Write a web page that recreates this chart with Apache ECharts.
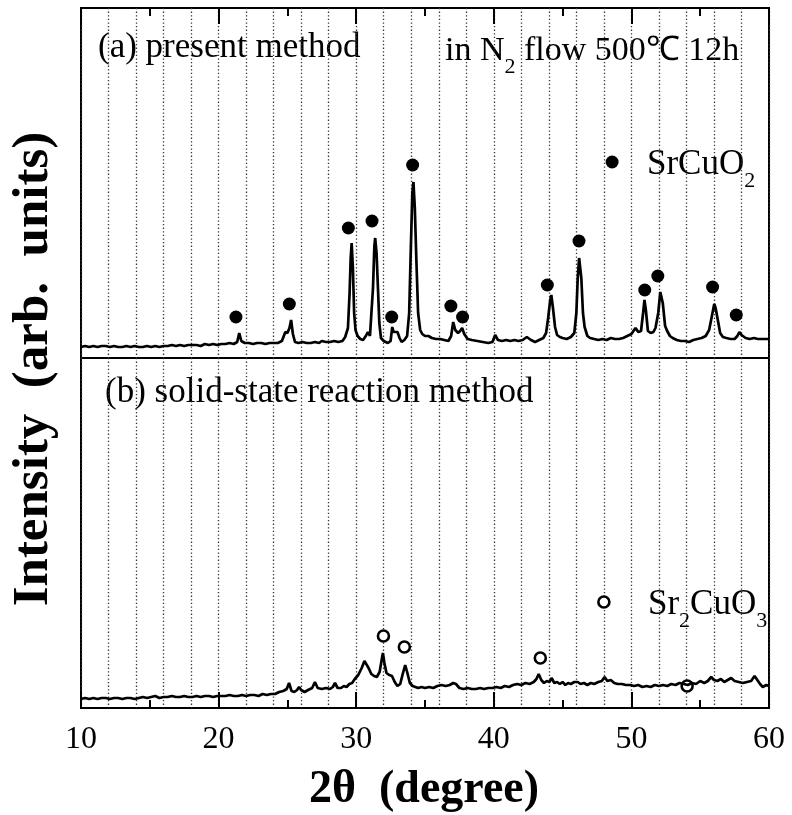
<!DOCTYPE html>
<html style="height: 100%">
	<head>
		<meta charset="utf-8"/>
		<script type="text/javascript" src="https://cdn.jsdelivr.net/npm/echarts@6/dist/echarts.min.js"></script>
	</head>
	<body style="height: 100%; margin: 0; background: #fff">
		<div id="container" style="width: 792px; height: 815px"></div>
		<script type="text/javascript">
			// (a) present method, [2theta, intensity]
			var topLine = [
				[10.0,11],[10.3,12],[10.6,11],[10.9,12],[11.2,11],[11.5,12],[11.8,12],[12.1,11],[12.4,12],[12.7,11],
				[13.0,11],[13.3,12],[13.6,11],[13.9,12],[14.2,11],[14.5,11],[14.8,12],[15.1,11],[15.4,12],[15.7,11],
				[16.0,12],[16.3,12],[16.6,13],[16.9,12],[17.2,13],[17.5,12],[17.8,13],[18.1,13],[18.4,13],[18.7,12],
				[19.0,14],[19.3,13],[19.6,14],[19.9,13],[20.2,14],[20.5,14],[20.8,15],[21.1,14],[21.35,16],[21.5,25],
				[21.65,17],[21.9,15],[22.2,15],[22.5,14],[22.8,15],[23.1,15],[23.4,14],[23.7,15],[24.0,15],[24.3,15],
				[24.6,17],[24.85,26],[25.0,25],[25.15,30],[25.27,38],[25.4,24],[25.55,16],[25.8,15],[26.1,16],[26.4,15],
				[26.7,15],[27.0,16],[27.3,15],[27.5,17],[27.8,16],[28.1,16],[28.4,17],[28.7,16],[29.0,17],[29.2,21],
				[29.4,30],[29.52,65],[29.6,100],[29.67,115],[29.76,90],[29.85,45],[29.95,28],[30.1,22],[30.3,19],[30.5,18],
				[30.7,22],[30.85,26],[31.0,22],[31.1,24],[31.22,70],[31.32,112],[31.38,120],[31.48,105],[31.58,70],[31.68,35],
				[31.8,20],[32.0,17],[32.3,15],[32.5,17],[32.62,31],[32.72,26],[32.85,24],[33.0,26],[33.15,20],[33.3,16],
				[33.5,18],[33.7,22],[33.85,45],[33.97,110],[34.08,165],[34.16,176],[34.26,150],[34.38,95],[34.5,45],[34.65,28],
				[34.8,24],[35.0,22],[35.25,22],[35.5,20],[35.8,19],[36.1,19],[36.4,18],[36.7,17],[36.9,22],[37.05,36],
				[37.2,28],[37.4,25],[37.55,27],[37.7,30],[37.85,24],[38.1,19],[38.4,18],[38.8,17],[39.2,16],[39.6,15],
				[39.9,16],[40.1,23],[40.3,18],[40.6,17],[40.9,18],[41.2,17],[41.5,18],[41.8,17],[42.1,18],[42.4,21],
				[42.7,18],[43.0,16],[43.3,18],[43.6,20],[43.8,25],[43.95,40],[44.1,58],[44.18,63],[44.3,50],[44.45,31],
				[44.6,23],[44.8,21],[45.0,20],[45.3,19],[45.6,21],[45.85,25],[46.0,45],[46.1,80],[46.2,100],[46.26,102],
				[46.36,80],[46.48,45],[46.6,31],[46.8,22],[47.0,20],[47.3,19],[47.6,18],[47.9,19],[48.2,18],[48.5,20],
				[48.8,19],[49.1,19],[49.4,20],[49.7,22],[50.0,24],[50.3,30],[50.5,26],[50.7,27],[50.85,45],[50.95,58],
				[51.05,48],[51.2,27],[51.4,25],[51.6,26],[51.75,30],[51.95,45],[52.1,66],[52.16,68],[52.28,55],[52.45,32],
				[52.6,27],[52.8,22],[53.0,20],[53.3,18],[53.6,17],[53.9,17],[54.2,16],[54.5,18],[54.8,19],[55.1,20],
				[55.4,22],[55.65,28],[55.85,42],[56.02,54],[56.12,50],[56.28,38],[56.45,25],[56.65,21],[56.9,20],[57.2,19],
				[57.5,19],[57.7,22],[57.85,26],[58.0,23],[58.3,20],[58.6,19],[58.9,20],[59.2,19],[59.5,19],[59.8,19],[60.0,19]
			];
			// SrCuO2 peak marks above the pattern
			var topMarks = [
				[21.26,41],[25.14,54],[29.43,130],[31.15,137],[32.58,41],[34.1,193],[36.88,52],
				[37.73,41],[43.89,73],[46.19,117],[50.97,68],[51.92,82],[55.9,71],[57.62,43]
			];
			var topKeyMark = [[48.6,196]];

			// (b) solid-state reaction method
			var bottomLine = [
				[10.0,9],[10.3,10],[10.6,9],[10.9,10],[11.2,9],[11.5,10],[11.8,10],[12.1,9],[12.4,10],[12.7,10],
				[13.0,9],[13.3,10],[13.6,10],[13.9,9],[14.2,10],[14.5,11],[14.8,10],[15.1,11],[15.4,12],[15.7,10],
				[16.0,11],[16.3,11],[16.6,12],[16.9,11],[17.2,11],[17.5,12],[17.8,11],[18.1,11],[18.4,12],[18.7,11],
				[19.0,12],[19.3,12],[19.6,11],[19.9,12],[20.2,12],[20.5,12],[20.8,13],[21.1,12],[21.4,12],[21.7,13],
				[22.0,12],[22.3,13],[22.6,13],[22.9,12],[23.2,14],[23.5,13],[23.8,14],[24.1,14],[24.4,16],[24.7,17],
				[24.95,19],[25.12,25],[25.3,17],[25.5,16],[25.7,18],[25.85,21],[26.0,18],[26.25,16],[26.5,18],[26.8,20],
				[27.0,26],[27.2,20],[27.5,19],[27.8,20],[28.1,19],[28.3,21],[28.46,25],[28.65,20],[28.9,20],[29.1,22],
				[29.3,21],[29.5,24],[29.7,25],[29.9,29],[30.15,33],[30.4,40],[30.6,47],[30.72,48],[30.9,40],[31.1,34],
				[31.3,32],[31.5,31],[31.7,36],[31.85,48],[31.94,55],[32.05,45],[32.2,35],[32.4,33],[32.6,32],[32.8,26],
				[33.0,22],[33.2,24],[33.4,35],[33.56,43],[33.72,35],[33.9,25],[34.1,22],[34.3,21],[34.5,20],[34.75,21],
				[35.0,20],[35.3,21],[35.6,20],[35.9,22],[36.2,23],[36.5,22],[36.8,23],[37.05,25],[37.25,24],[37.5,20],
				[37.8,19],[38.1,20],[38.4,19],[38.7,19],[39.0,20],[39.3,19],[39.6,20],[39.9,20],[40.2,21],[40.5,20],
				[40.8,22],[41.1,21],[41.4,23],[41.7,24],[42.0,23],[42.3,25],[42.6,24],[42.9,26],[43.1,29],[43.26,34],
				[43.45,28],[43.65,25],[43.85,27],[44.05,26],[44.2,30],[44.4,25],[44.6,26],[44.8,24],[45.0,26],[45.2,23],
				[45.4,25],[45.6,24],[45.85,26],[46.1,26],[46.3,24],[46.55,25],[46.8,23],[47.05,25],[47.3,24],[47.6,26],
				[47.85,27],[48.05,31],[48.25,27],[48.5,28],[48.75,25],[49.0,24],[49.3,24],[49.6,23],[49.9,23],[50.2,22],
				[50.5,23],[50.8,21],[51.1,22],[51.4,21],[51.7,23],[52.0,22],[52.3,23],[52.6,22],[52.9,24],[53.2,23],
				[53.5,25],[53.8,24],[54.1,23],[54.4,25],[54.7,24],[55.0,27],[55.3,25],[55.55,27],[55.8,31],[56.0,28],
				[56.25,27],[56.5,29],[56.75,26],[57.0,28],[57.25,30],[57.5,27],[57.8,26],[58.1,25],[58.4,26],[58.7,27],
				[58.95,32],[59.15,28],[59.35,24],[59.55,21],[59.8,23],[60.0,22]
			];
			// Sr2CuO3 peak marks
			var bottomMarks = [[31.98,72],[33.5,61],[43.38,50],[54.05,22]];
			var bottomKeyMark = [[48.0,106]];

			var xTicks = [10, 20, 30, 40, 50, 60];

			var serif = '"Liberation Serif", "Times New Roman", serif';
			var dotted = {show: true, lineStyle: {color: '#333', width: 1.3, type: [1.3, 2.3]}};
			var subStyle = {fontSize: 22, fontFamily: serif, lineHeight: 22, padding: [32, 0, 0, 0]};

			var myChart = echarts.init(document.getElementById("container"));

			var option = {
				animation: false,
				backgroundColor: '#fff',
				grid: [{
					left: 81, right: 23, top: 8, height: 350,
					show: true, borderColor: '#000', borderWidth: 2
				}, {
					left: 81, right: 23, top: 358, height: 350,
					show: true, borderColor: '#000', borderWidth: 2
				}],
				xAxis: [{
					// dotted guide lines, upper panel
					gridIndex: 0, type: 'value', min: 10, max: 60, interval: 2, position: 'top',
					axisLine: {show: false}, axisTick: {show: false}, axisLabel: {show: false},
					splitLine: dotted
				}, {
					gridIndex: 0, type: 'value', min: 10, max: 60, interval: 10, position: 'top',
					axisLine: {show: false},
					axisTick: {show: true, inside: true, length: 16, lineStyle: {color: '#000', width: 2}},
					minorTick: {show: true, splitNumber: 2, length: 8, lineStyle: {color: '#000', width: 2}},
					axisLabel: {show: false}, splitLine: {show: false}
				}, {
					gridIndex: 1, type: 'value', min: 10, max: 60, interval: 2, position: 'bottom',
					axisLine: {show: false}, axisTick: {show: false}, axisLabel: {show: false},
					splitLine: dotted
				}, {
					gridIndex: 1, type: 'value', min: 10, max: 60, interval: 10, position: 'bottom',
					axisLine: {show: false},
					axisTick: {show: true, inside: true, length: 16, lineStyle: {color: '#000', width: 2}},
					minorTick: {show: true, splitNumber: 2, length: 8, lineStyle: {color: '#000', width: 2}},
					axisLabel: {
						show: true, margin: 16, color: '#000', fontSize: 32, fontFamily: serif,
						customValues: xTicks,
						formatter: function (v) { return String(v); }
					},
					splitLine: {show: false}
				}],
				yAxis: [
					{gridIndex: 0, type: 'value', min: 0, max: 350, show: false},
					{gridIndex: 1, type: 'value', min: 0, max: 350, show: false}
				],
				series: [{
					name: 'present', type: 'line', xAxisIndex: 1, yAxisIndex: 0,
					data: topLine, symbol: 'none',
					lineStyle: {color: '#000', width: 2.7}
				}, {
					name: 'SrCuO2', type: 'scatter', xAxisIndex: 1, yAxisIndex: 0,
					data: topMarks.concat(topKeyMark), symbol: 'circle', symbolSize: 13,
					itemStyle: {color: '#000', opacity: 1}
				}, {
					name: 'solid', type: 'line', xAxisIndex: 3, yAxisIndex: 1,
					data: bottomLine, symbol: 'none',
					lineStyle: {color: '#000', width: 2.7}
				}, {
					name: 'Sr2CuO3', type: 'scatter', xAxisIndex: 3, yAxisIndex: 1,
					data: bottomMarks.concat(bottomKeyMark), symbol: 'circle', symbolSize: 11,
					itemStyle: {color: '#fff', borderColor: '#000', borderWidth: 2.6, opacity: 1}
				}],
				graphic: [{
					type: 'text', x: 98, y: 48,
					style: {text: '(a) present method', fontSize: 35, fontFamily: serif, fill: '#000',
						textAlign: 'left', textVerticalAlign: 'middle'}
				}, {
					type: 'text', x: 445, y: 51,
					style: {
						text: 'in N{s|2} flow 500℃ 12h', fontSize: 34, fontFamily: serif, fill: '#000',
						lineHeight: 54, textAlign: 'left', textVerticalAlign: 'middle',
						rich: {s: subStyle}
					}
				}, {
					type: 'text', x: 647, y: 165,
					style: {
						text: 'SrCuO{s|2}', fontSize: 35, fontFamily: serif, fill: '#000',
						lineHeight: 54, textAlign: 'left', textVerticalAlign: 'middle',
						rich: {s: subStyle}
					}
				}, {
					type: 'text', x: 105, y: 393,
					style: {text: '(b) solid-state reaction method', fontSize: 35, fontFamily: serif, fill: '#000',
						textAlign: 'left', textVerticalAlign: 'middle'}
				}, {
					type: 'text', x: 648, y: 605,
					style: {
						text: 'Sr{s|2}CuO{s|3}', fontSize: 35, fontFamily: serif, fill: '#000',
						lineHeight: 54, textAlign: 'left', textVerticalAlign: 'middle',
						rich: {s: subStyle}
					}
				}, {
					type: 'text', x: 34, y: 369, rotation: Math.PI / 2,
					style: {text: 'Intensity  (arb.  units)', fontSize: 51, fontWeight: 'bold', fontFamily: serif,
						fill: '#000', textAlign: 'center', textVerticalAlign: 'middle'}
				}, {
					type: 'text', x: 424, y: 790,
					style: {text: '2θ  (degree)', fontSize: 46, fontWeight: 'bold', fontFamily: serif,
						fill: '#000', textAlign: 'center', textVerticalAlign: 'middle'}
				}]
			};

			myChart.setOption(option);
		</script>
	</body>
</html>
